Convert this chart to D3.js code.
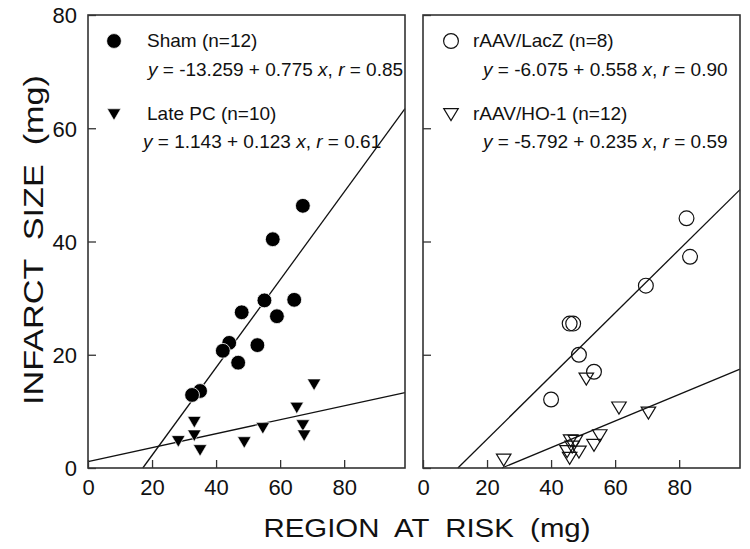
<!DOCTYPE html>
<html><head><meta charset="utf-8">
<script src="https://cdn.jsdelivr.net/npm/d3@7"></script>
<style>body{margin:0;background:#fff}svg{display:block}text{font-family:"Liberation Sans",Arial,sans-serif;fill:#111}</style>
</head><body>
<svg id="c" width="750" height="549"></svg>
<script>
// ---- data ----
const xTicks = [0, 20, 40, 60, 80];
const yTicks = [0, 20, 40, 60, 80];
const shamX = [67.1, 57.7, 55.1, 64.4, 48.0, 59.0, 44.1, 42.1, 52.9, 46.9, 35.0, 32.5];
const shamY = [46.3, 40.4, 29.6, 29.7, 27.5, 26.8, 22.1, 20.7, 21.7, 18.6, 13.6, 12.9];
const latePCX = [70.6, 65.2, 33.2, 54.6, 67.1, 33.2, 67.5, 28.2, 48.8, 35.0];
const latePCY = [14.8, 10.7, 8.2, 7.1, 7.6, 5.8, 5.8, 4.8, 4.6, 3.2];
const lacZX = [82.3, 83.4, 69.6, 45.8, 46.9, 48.7, 53.4, 40.0];
const lacZY = [44.1, 37.3, 32.2, 25.5, 25.5, 20.0, 17.0, 12.1];
const ho1X = [51.0, 61.2, 70.4, 55.2, 46.1, 47.6, 53.4, 45.0, 48.7, 46.6, 45.8, 25.2];
const ho1Y = [15.8, 10.7, 9.8, 5.8, 4.9, 4.8, 4.1, 3.0, 2.9, 3.8, 1.8, 1.5];
// regression lines: [intercept, slope, r]
const fitSham = [-13.259, 0.775, "0.85"];
const fitLatePC = [1.143, 0.123, "0.61"];
const fitLacZ = [-6.075, 0.558, "0.90"];
const fitHO1 = [-5.792, 0.235, "0.59"];
const labels = ["Sham (n=12)", "Late PC (n=10)", "rAAV/LacZ (n=8)", "rAAV/HO-1 (n=12)"];

const svg = d3.select("#c");
const xDomain = [0, 99], yDomain = [0, 80];
const y = d3.scaleLinear().domain(yDomain).range([468, 15]);
const panels = [
  {x: d3.scaleLinear().domain(xDomain).range([88, 405]), yLabels: true,
   series: [{xs: shamX, ys: shamY, sym: "circle", fill: true, fit: fitSham, label: labels[0]},
            {xs: latePCX, ys: latePCY, sym: "tri", fill: true, fit: fitLatePC, label: labels[1]}]},
  {x: d3.scaleLinear().domain(xDomain).range([423, 740]), yLabels: false,
   series: [{xs: lacZX, ys: lacZY, sym: "circle", fill: false, fit: fitLacZ, label: labels[2]},
            {xs: ho1X, ys: ho1Y, sym: "tri", fill: false, fit: fitHO1, label: labels[3]}]}
];
function tri(cx, cy, w, h) {
  return `M${cx - w / 2},${cy - h * 0.45}L${cx + w / 2},${cy - h * 0.45}L${cx},${cy + h * 0.55}Z`;
}
function drawMarker(g, sym, fill, cx, cy) {
  if (sym === "circle") {
    g.append("circle").attr("cx", cx).attr("cy", cy).attr("r", 7.4)
      .attr("fill", fill ? "#000" : "none").attr("stroke", fill ? "#fff" : "#111")
      .attr("stroke-width", fill ? 0.8 : 1.2);
  } else {
    g.append("path").attr("d", fill ? tri(cx, cy, 13.5, 11.5) : tri(cx, cy, 14.5, 12))
      .attr("fill", fill ? "#000" : "none").attr("stroke", fill ? "#fff" : "#111")
      .attr("stroke-width", fill ? 0.6 : 1.2).attr("stroke-linejoin", "miter");
  }
}
panels.forEach((p, pi) => {
  const g = svg.append("g");
  const [x0, x1] = p.x.range();
  // regression lines
  p.series.forEach(s => {
    const [a, b] = s.fit;
    const xs = Math.max(xDomain[0], -a / b);
    const xe = xDomain[1];
    g.append("line").attr("x1", p.x(xs)).attr("y1", y(a + b * xs))
      .attr("x2", p.x(xe)).attr("y2", y(a + b * xe))
      .attr("stroke", "#111").attr("stroke-width", 1.3);
  });
  // points
  p.series.slice().reverse().forEach(s => {
    s.xs.forEach((v, i) => drawMarker(g, s.sym, s.fill, p.x(v), y(s.ys[i])));
  });
  // frame
  g.append("rect").attr("x", x0).attr("y", 15).attr("width", x1 - x0).attr("height", 453)
    .attr("fill", "none").attr("stroke", "#333").attr("stroke-width", 1.6);
  // axes ticks inward
  const xa = d3.axisTop(p.x).tickValues(xTicks).tickSize(8).tickFormat(d => d);
  const ax = g.append("g").attr("transform", "translate(0,468)").call(xa);
  ax.select(".domain").remove();
  ax.selectAll("line").attr("stroke", "#333").attr("stroke-width", 1.3);
  ax.selectAll("text").attr("y", 27).attr("dy", 0).attr("font-size", 22)
    .attr("font-family", "Liberation Sans, Arial, sans-serif").attr("fill", "#111");
  const ya = d3.axisRight(y).tickValues(yTicks).tickSize(8).tickFormat(d => d);
  const ay = g.append("g").attr("transform", `translate(${x0},0)`).call(ya);
  ay.select(".domain").remove();
  ay.selectAll("line").attr("stroke", "#333").attr("stroke-width", 1.3);
  if (p.yLabels) {
    ay.selectAll("text").attr("x", -11).attr("dy", "0.36em").attr("text-anchor", "end")
      .attr("font-size", 22).attr("font-family", "Liberation Sans, Arial, sans-serif").attr("fill", "#111");
  } else {
    ay.selectAll("text").remove();
  }
  // legend
  const lx = pi === 0 ? 114 : 451;
  const tx = pi === 0 ? 147 : 473;
  const ex = pi === 0 ? [148, 143] : [483, 483];
  const rows = [41, 114];
  const base = [47, 120];
  const ebase = [76, 148];
  p.series.forEach((s, si) => {
    drawMarker(g, s.sym, s.fill, lx, rows[si]);
    g.append("text").attr("x", tx).attr("y", base[si]).attr("font-size", 19).text(s.label);
    const t = g.append("text").attr("x", ex[si]).attr("y", ebase[si]).attr("font-size", 19);
    const a = s.fit[0], b = s.fit[1];
    t.append("tspan").attr("font-style", "italic").text("y");
    t.append("tspan").text(` = ${a.toFixed(3)} + ${b.toFixed(3)} `);
    t.append("tspan").attr("font-style", "italic").text("x");
    t.append("tspan").text(", ");
    t.append("tspan").attr("font-style", "italic").text("r");
    t.append("tspan").text(` = ${s.fit[2]}`);
  });
});
// axis titles
svg.append("text").attr("x", 427).attr("y", 537).attr("text-anchor", "middle")
  .attr("font-size", 26).attr("textLength", 327).attr("lengthAdjust", "spacingAndGlyphs")
  .style("white-space", "pre").text("REGION  AT  RISK  (mg)");
svg.append("text").attr("transform", "translate(43,240) rotate(-90)").attr("text-anchor", "middle")
  .attr("font-size", 28).attr("textLength", 330).attr("lengthAdjust", "spacingAndGlyphs")
  .style("white-space", "pre").text("INFARCT  SIZE  (mg)");
</script>
</body></html>
